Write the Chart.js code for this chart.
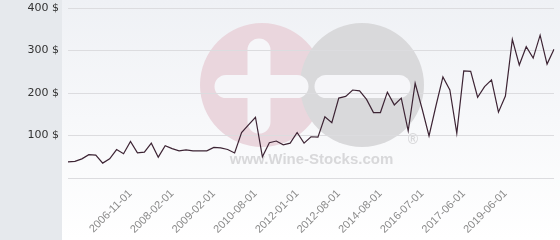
<!DOCTYPE html>
<html>
<head>
<meta charset="utf-8">
<script src="https://cdn.jsdelivr.net/npm/chart.js@4/dist/chart.umd.min.js"></script>
<style>
  html, body { margin: 0; padding: 0; background: #fff; }
  #wrap { width: 560px; height: 240px; }
</style>
</head>
<body>
<div id="wrap"><canvas id="priceChart" width="560" height="240"></canvas></div>
<script>
// prix par date (71 releves)
const prices = [
    38, 39, 45, 55, 54, 35, 45, 67, 57, 86,
    59, 61, 82, 49, 76, 69, 64, 66, 64, 64,
    64, 72, 71, 67, 59, 107, 125, 143, 50, 83,
    87, 78, 82, 107, 82, 97, 96, 144, 130, 188,
    192, 207, 205, 185, 154, 154, 202, 172, 188, 111,
    223, 163, 99, 170, 238, 207, 105, 252, 251, 190,
    215, 231, 155, 193, 326, 266, 309, 282, 336, 268,
    303
];

// dates visibles sur l'axe et leur position dans la serie
const tickDates = ['2006-11-01', '2008-02-01', '2009-02-01', '2010-08-01', '2012-01-01',
                   '2012-08-01', '2014-08-01', '2016-07-01', '2017-06-01', '2019-06-01'];
const tickIndex = [9, 15, 21, 27, 33, 39, 45, 51, 57, 63];

const yTicks = [0, 100, 200, 300, 400];

const labels = prices.map(() => '');
tickIndex.forEach((idx, i) => { labels[idx] = tickDates[i]; });

// fond + logo en filigrane
const background = {
    id: 'background',
    beforeDraw(chart) {
        const ctx = chart.ctx;
        const w = chart.width, h = chart.height;
        ctx.save();
        const grad = ctx.createLinearGradient(0, 0, 0, h);
        grad.addColorStop(0, '#eff1f5');
        grad.addColorStop(1, '#ffffff');
        ctx.fillStyle = grad;
        ctx.fillRect(0, 0, w, h);
        ctx.fillStyle = '#e6e9ed';
        ctx.fillRect(0, 0, 62, h);

        // cercle rose avec le plus
        ctx.fillStyle = '#ead6dd';
        ctx.beginPath();
        ctx.arc(262, 85, 62, 0, Math.PI * 2);
        ctx.fill();
        // cercle gris avec le moins
        ctx.fillStyle = '#d9d9db';
        ctx.beginPath();
        ctx.arc(362, 85, 62, 0, Math.PI * 2);
        ctx.fill();

        ctx.lineCap = 'round';
        ctx.strokeStyle = '#f6f6f9';
        ctx.lineWidth = 23;
        ctx.beginPath();
        ctx.moveTo(226, 86.5); ctx.lineTo(297, 86.5);
        ctx.moveTo(259, 50); ctx.lineTo(259, 122);
        ctx.stroke();
        ctx.beginPath();
        ctx.moveTo(326, 86.5); ctx.lineTo(399, 86.5);
        ctx.stroke();

        ctx.fillStyle = '#d8d8da';
        ctx.font = 'bold 15px "Liberation Sans", Arial, sans-serif';
        ctx.textAlign = 'center';
        ctx.textBaseline = 'middle';
        ctx.fillText('www.Wine-Stocks.com', 311.5, 160);
        ctx.font = 'bold 14px "Liberation Sans", Arial, sans-serif';
        ctx.fillText('®', 413, 140);
        ctx.restore();
    }
};

const ctx = document.getElementById('priceChart').getContext('2d');
new Chart(ctx, {
    type: 'line',
    data: {
        labels: labels,
        datasets: [{
            data: prices,
            borderColor: '#3d2434',
            borderWidth: 1.2,
            pointRadius: 0,
            tension: 0,
            fill: false
        }]
    },
    options: {
        responsive: false,
        animation: false,
        layout: { padding: { top: 8, right: 6, bottom: 0, left: 0 } },
        plugins: { legend: { display: false }, tooltip: { enabled: false } },
        scales: {
            x: {
                type: 'category',
                offset: false,
                grid: { display: false },
                border: { display: false },
                ticks: {
                    autoSkip: false,
                    minRotation: 45,
                    maxRotation: 45,
                    padding: 1,
                    color: '#8a8a8a',
                    font: { family: '"Liberation Sans", Arial, sans-serif', size: 11 }
                },
                afterFit(scale) {
                    scale.height = 62;
                    scale.paddingLeft = 0;
                    scale.paddingRight = 0;
                }
            },
            y: {
                min: 0,
                max: 400,
                afterBuildTicks(scale) { scale.ticks = yTicks.map(v => ({ value: v })); },
                grid: { color: '#dcdcdf', drawTicks: false },
                border: { display: false },
                ticks: {
                    padding: 9,
                    color: '#333',
                    font: { family: '"DejaVu Sans", sans-serif', size: 11 },
                    callback: v => v ? v + ' $' : ''
                },
                afterFit(scale) {
                    scale.width = 68;
                    scale.paddingTop = 0;
                    scale.paddingBottom = 0;
                }
            }
        }
    },
    plugins: [background]
});
</script>
</body>
</html>
